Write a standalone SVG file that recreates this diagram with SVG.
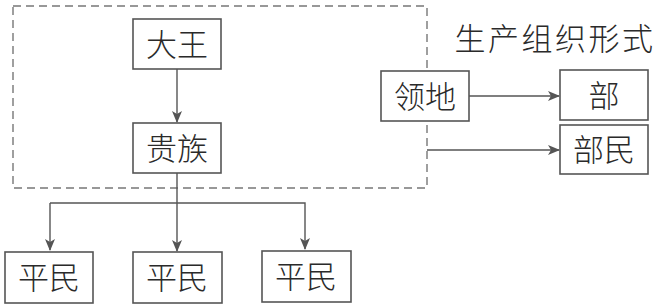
<svg xmlns="http://www.w3.org/2000/svg" width="659" height="306" viewBox="0 0 659 306">
<style>
.box{fill:#fff;stroke:#555;stroke-width:1.6}
.t{font-family:"Noto Sans CJK SC","Noto Sans CJK JP",sans-serif;font-size:31px;font-weight:300;fill:#2a2a2a;text-anchor:middle}
.c{stroke:#555;stroke-width:1.4;fill:none}
</style>
<defs>
<marker id="ah" markerWidth="12" markerHeight="10" refX="11" refY="5" orient="auto" markerUnits="userSpaceOnUse">
<path d="M0,0 L12,5 L0,10 L3,5 Z" fill="#555"/>
</marker>
</defs>
<rect x="13" y="6" width="414" height="182" fill="none" stroke="#777" stroke-width="1.4" stroke-dasharray="8,5"/>
<text x="555" y="50" class="t" style="font-size:31px;letter-spacing:2.5px">生产组织形式</text>
<g id="connectors">
<line class="c" x1="177" y1="69" x2="177" y2="122" marker-end="url(#ah)"/>
<line class="c" x1="177" y1="173" x2="177" y2="251" marker-end="url(#ah)"/>
<polyline class="c" points="50,203 305,203 305,249" marker-end="url(#ah)"/>
<line class="c" x1="50" y1="203" x2="50" y2="250" marker-end="url(#ah)"/>
<line class="c" x1="469" y1="96" x2="559" y2="96" marker-end="url(#ah)"/>
<line class="c" x1="427" y1="150" x2="559" y2="150" marker-end="url(#ah)"/>
</g>
<g id="dawang"><rect class="box" x="133" y="19" width="88" height="50"/><text class="t" x="177" y="56">大王</text></g>
<g id="guizu"><rect class="box" x="133" y="123" width="88" height="50"/><text class="t" x="177" y="160">贵族</text></g>
<g id="pingmin1"><rect class="box" x="5" y="252" width="88" height="51"/><text class="t" x="49" y="289">平民</text></g>
<g id="pingmin2"><rect class="box" x="133" y="252" width="89" height="51"/><text class="t" x="177" y="289">平民</text></g>
<g id="pingmin3"><rect class="box" x="262" y="251" width="89" height="51"/><text class="t" x="306" y="288">平民</text></g>
<g id="lingdi"><rect class="box" x="381" y="71" width="88" height="50"/><text class="t" x="425" y="108">领地</text></g>
<g id="bu"><rect class="box" x="560" y="70" width="88" height="50"/><text class="t" x="604" y="107">部</text></g>
<g id="bumin"><rect class="box" x="560" y="125" width="88" height="49"/><text class="t" x="604" y="161">部民</text></g>
</svg>
